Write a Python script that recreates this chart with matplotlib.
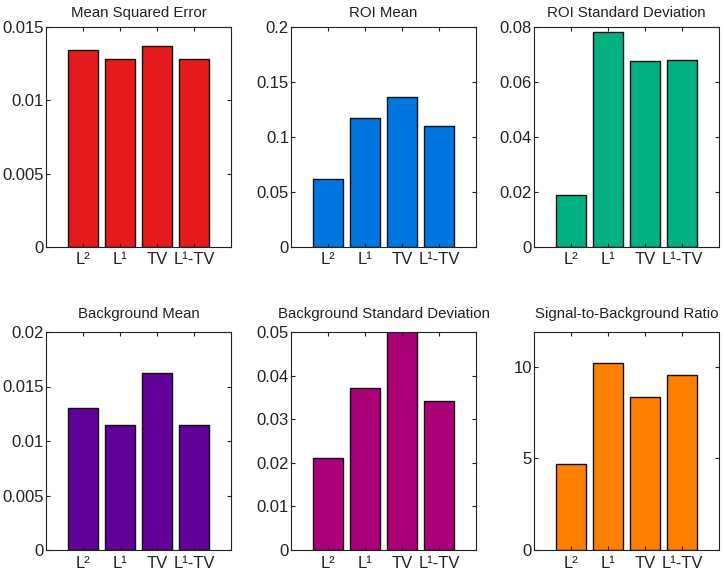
import matplotlib
matplotlib.use('Agg')
import matplotlib.pyplot as plt

plt.rcParams['font.family'] = ['Liberation Sans', 'DejaVu Sans']
plt.rcParams['font.size'] = 10.5

methods = ['L²', 'L¹', 'TV', 'L¹-TV']

mse = [0.01341, 0.01284, 0.01370, 0.01282]
roi_mean = [0.0615, 0.1169, 0.1361, 0.1102]
roi_std = [0.0190, 0.0783, 0.0675, 0.0679]
bg_mean = [0.0130, 0.01148, 0.01625, 0.01148]
bg_std = [0.0211, 0.0371, 0.0505, 0.0341]
sbr = [4.70, 10.2, 8.37, 9.58]

titles = ['Mean Squared Error', 'ROI Mean', 'ROI Standard Deviation',
          'Background Mean', 'Background Standard Deviation',
          'Signal-to-Background Ratio']
series = [mse, roi_mean, roi_std, bg_mean, bg_std, sbr]
colors = ['#e41a1c', '#0077e0', '#00b080', '#62009a', '#aa0078', '#ff7f00']
ylims = [0.015, 0.2, 0.08, 0.02, 0.05, 11.9]
yticks = [
    [0, 0.005, 0.01, 0.015],
    [0, 0.05, 0.1, 0.15, 0.2],
    [0, 0.02, 0.04, 0.06, 0.08],
    [0, 0.005, 0.01, 0.015, 0.02],
    [0, 0.01, 0.02, 0.03, 0.04, 0.05],
    [0, 5, 10],
]
yticklabels = [
    ['0', '0.005', '0.01', '0.015'],
    ['0', '0.05', '0.1', '0.15', '0.2'],
    ['0', '0.02', '0.04', '0.06', '0.08'],
    ['0', '0.005', '0.01', '0.015', '0.02'],
    ['0', '0.01', '0.02', '0.03', '0.04', '0.05'],
    ['0', '5', '10'],
]

W, H = 723, 578
lefts = [46, 291, 534]
rows = [(27, 247), (332, 550)]
aw = 185

fig = plt.figure(figsize=(W / 100, H / 100), dpi=100)

for i, values in enumerate(series):
    top, bottom = rows[i // 3]
    left = lefts[i % 3]
    ax = fig.add_axes([left / W, (H - bottom) / H, aw / W, (bottom - top) / H])
    x = range(1, len(values) + 1)
    ax.bar(x, values, width=0.8, color=colors[i], edgecolor='#111111',
           linewidth=1.0)
    ax.set_xlim(0, 5)
    ax.set_ylim(0, ylims[i])
    ax.set_xticks(list(x))
    ax.set_xticklabels(methods)
    ax.set_yticks(yticks[i])
    ax.set_yticklabels(yticklabels[i])
    ax.tick_params(direction='in', top=True, right=True, length=3,
                   width=0.8, colors='#222222', labelcolor='#222222')
    ax.tick_params(axis='x', labelsize=12, pad=3.5 if i < 3 else 4.5)
    ax.tick_params(axis='y', labelsize=12, pad=1.5)
    for sp in ax.spines.values():
        sp.set_color('#222222')
        sp.set_linewidth(0.8)
    ax.set_title(titles[i], fontsize=10.8, pad=7 if i < 3 else 10,
                 color='#222222')

fig.savefig('out.png', dpi=100)
